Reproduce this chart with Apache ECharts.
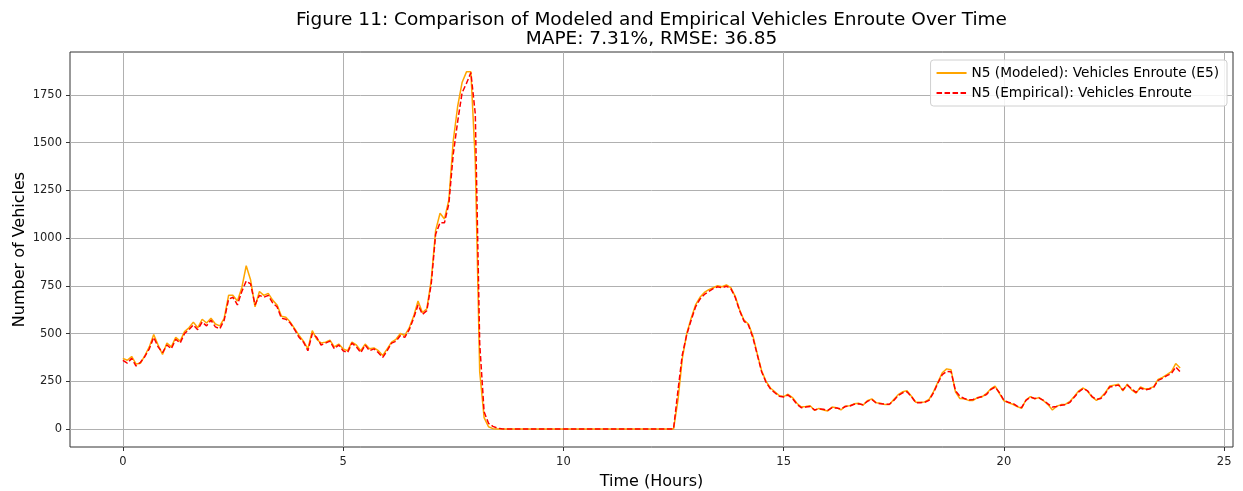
<!DOCTYPE html>
<html>
<head>
<meta charset="utf-8">
<script src="https://cdn.jsdelivr.net/npm/echarts@6/dist/echarts.min.js"></script>
<style>
html,body{margin:0;padding:0;background:#fff;}
#chart{width:1243px;height:491px;}
</style>
</head>
<body>
<div id="chart"></div>
<script>
// Time in hours, sampled every 0.1 h from 0 to 24
const timeStep = 0.1;
const empirical = [
360,345,370,330,350,380,420,480,430,400,
440,420,470,450,500,520,545,520,560,540,
570,535,525,570,680,690,650,720,775,760,
650,700,690,700,660,640,580,575,555,520,
480,455,410,500,480,440,450,460,420,440,
410,400,450,430,400,440,410,420,400,375,
410,450,460,490,480,520,580,650,600,620,
760,1020,1080,1080,1180,1440,1610,1760,1810,1866,
1650,450,90,30,14,5,1,0,0,0,
0,0,0,0,0,0,0,0,0,0,
0,0,0,0,0,0,0,0,0,0,
0,0,0,0,0,0,0,0,0,0,
0,0,0,0,0,0,200,390,494,570,
640,680,705,720,735,745,740,748,735,690,
620,565,545,480,390,300,245,210,190,172,
168,178,160,130,112,115,118,100,105,104,
98,112,110,105,118,120,130,132,127,145,
155,136,133,130,130,150,175,190,195,170,
138,138,140,150,189,240,285,302,300,200,
172,160,152,155,163,170,180,206,220,190,
150,140,135,120,112,150,168,160,162,150,
132,115,118,125,128,140,168,195,212,200,
170,155,160,185,220,225,230,205,230,210,
192,215,205,210,218,255,265,280,290,325,
300];
const modeled = [
370,360,380,340,345,385,430,495,440,390,
450,430,480,460,510,530,560,530,575,555,
580,550,540,580,700,700,670,740,855,780,
640,720,700,710,675,650,590,585,560,525,
490,460,420,515,470,450,455,465,430,445,
420,410,455,440,410,445,420,425,410,385,
420,455,470,500,490,530,590,670,610,630,
780,1040,1130,1100,1200,1510,1690,1814,1870,1870,
1400,300,60,12,2,0,0,0,0,0,
0,0,0,0,0,0,0,0,0,0,
0,0,0,0,0,0,0,0,0,0,
0,0,0,0,0,0,0,0,0,0,
0,0,0,0,0,0,150,370,500,580,
650,690,715,730,740,750,745,755,740,695,
625,570,550,490,395,305,250,215,195,175,
170,182,165,135,115,118,122,98,108,100,
95,115,112,100,120,122,132,135,125,148,
158,138,135,128,128,155,180,195,200,172,
140,140,142,155,195,245,295,315,310,195,
160,158,150,150,165,168,185,210,225,185,
148,138,130,118,108,152,170,158,165,148,
128,100,120,128,130,145,172,200,215,198,
168,150,165,190,225,230,235,200,235,205,
188,220,210,212,222,260,270,285,300,343,
320];
const times = empirical.map((_, i) => +(i * timeStep).toFixed(1));
const xTicks = [0, 5, 10, 15, 20, 25];
const yTicks = [0, 250, 500, 750, 1000, 1250, 1500, 1750];
const titleText = 'Figure 11: Comparison of Modeled and Empirical Vehicles Enroute Over Time';
const subTitleText = 'MAPE: 7.31%, RMSE: 36.85';
const seriesNames = ['N5 (Modeled): Vehicles Enroute (E5)', 'N5 (Empirical): Vehicles Enroute'];

const font = 'DejaVu Sans';
const chart = echarts.init(document.getElementById('chart'), null, {renderer: 'canvas'});
chart.setOption({
  animation: false,
  backgroundColor: '#fff',
  textStyle: {fontFamily: font},
  graphic: [
    {type: 'text', x: 651.5, y: 20, style: {text: titleText, fontFamily: font, fontSize: 18.5, fill: '#000', align: 'center', verticalAlign: 'middle'}},
    {type: 'text', x: 651.5, y: 39, style: {text: subTitleText, fontFamily: font, fontSize: 18.5, fill: '#000', align: 'center', verticalAlign: 'middle'}}
  ],
  grid: {left: 70, right: 10, top: 52, bottom: 44, outerBoundsMode: 'none', containLabel: false, show: true, borderColor: '#333', borderWidth: 1, backgroundColor: 'transparent'},
  legend: {
    orient: 'vertical', right: 16, top: 60,
    data: seriesNames,
    backgroundColor: 'rgba(255,255,255,0.85)', borderColor: '#d0d0d0', borderWidth: 1, borderRadius: 3,
    padding: [6, 8, 6, 5], itemGap: 6, itemWidth: 30, itemHeight: 14,
    itemStyle: {opacity: 0},
    textStyle: {fontFamily: font, fontSize: 13.7, color: '#000'}
  },
  xAxis: {
    type: 'value', min: -1.2, max: 25.2,
    name: 'Time (Hours)', nameLocation: 'middle', nameGap: 27, nameMoveOverlap: false,
    nameTextStyle: {fontFamily: font, fontSize: 16, color: '#000'},
    axisLine: {show: false, onZero: false},
    axisTick: {show: true, customValues: xTicks, length: 4, lineStyle: {color: '#333'}},
    axisLabel: {customValues: xTicks, fontFamily: font, fontSize: 11.5, color: '#222', margin: 9},
    splitLine: {show: true, lineStyle: {color: '#b0b0b0', width: 1}}
  },
  yAxis: {
    type: 'value', min: -94, max: 1974,
    name: 'Number of Vehicles', nameLocation: 'middle', nameGap: 42, nameRotate: 90, nameMoveOverlap: false,
    nameTextStyle: {fontFamily: font, fontSize: 16, color: '#000'},
    axisLine: {show: false, onZero: false},
    axisTick: {show: true, customValues: yTicks, length: 4, lineStyle: {color: '#333'}},
    axisLabel: {customValues: yTicks, fontFamily: font, fontSize: 11.5, color: '#222', margin: 8, formatter: v => String(v)},
    splitLine: {show: true, lineStyle: {color: '#b0b0b0', width: 1}}
  },
  series: [
    {
      name: seriesNames[0], type: 'line', symbol: 'none', z: 2,
      data: times.map((t, i) => [t, modeled[i]]),
      lineStyle: {color: '#FFA500', width: 1.5}, itemStyle: {color: '#FFA500'}
    },
    {
      name: seriesNames[1], type: 'line', symbol: 'none', z: 3,
      data: times.map((t, i) => [t, empirical[i]]),
      lineStyle: {color: '#FF0000', width: 1.5, type: [5.5, 2.5]}, itemStyle: {color: '#FF0000'}
    }
  ]
});
</script>
</body>
</html>
